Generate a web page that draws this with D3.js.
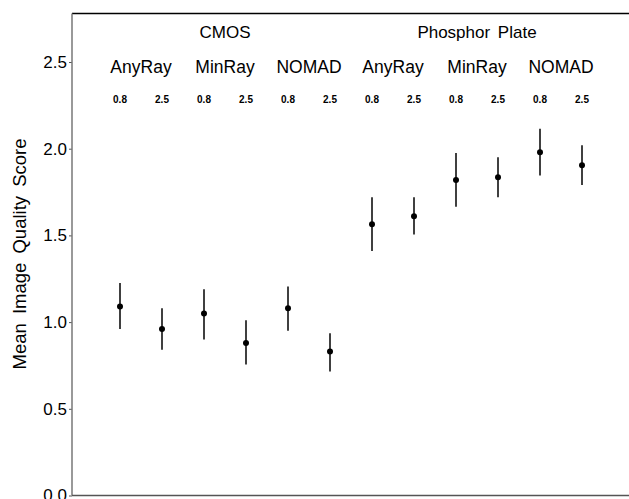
<!DOCTYPE html>
<html>
<head>
<meta charset="utf-8">
<script src="https://cdn.jsdelivr.net/npm/d3@7"></script>
<style>
  body { margin: 0; background: #fff; }
  text { font-family: "Liberation Sans", Arial, sans-serif; fill: #000; }
</style>
</head>
<body>
<div id="chart"></div>
<script>
// data
var detectors = ["CMOS", "Phosphor Plate"];
var software = ["AnyRay", "MinRay", "NOMAD"];
var settings = ["0.8", "2.5"];
var means = [1.09, 0.96, 1.05, 0.88, 1.08, 0.83, 1.565, 1.61, 1.82, 1.835, 1.98, 1.905];
var lower = [0.96, 0.84, 0.90, 0.755, 0.95, 0.715, 1.41, 1.505, 1.665, 1.72, 1.845, 1.79];
var upper = [1.225, 1.08, 1.19, 1.01, 1.205, 0.935, 1.72, 1.72, 1.975, 1.95, 2.115, 2.02];
var yTicks = [0.0, 0.5, 1.0, 1.5, 2.0, 2.5];

var width = 629, height = 499;
var margin = {top: 13.5, left: 72, bottom: 3.5};

// build the rows
var rows = [];
var k = 0;
detectors.forEach(function (d) {
    software.forEach(function (s) {
        settings.forEach(function (t) {
            rows.push({det: d, sw: s, set: t, key: d + "|" + s + "|" + t,
                m: means[k], lo: lower[k], hi: upper[k]});
            k++;
        });
    });
});

var svg = d3.select("#chart").append("svg")
    .attr("width", width)
    .attr("height", height);

var y = d3.scaleLinear()
    .domain([0, 2.5])
    .range([height - margin.bottom, 62]);

var x = d3.scaleBand()
    .domain(rows.map(function (d) { return d.key; }))
    .range([99, 603]);

var cx = function (key) { return x(key) + x.bandwidth() / 2; };

// top frame line
svg.append("line")
    .attr("x1", margin.left).attr("x2", width)
    .attr("y1", margin.top).attr("y2", margin.top)
    .attr("stroke", "#000").attr("stroke-width", 1.5);

// y axis
var yAxis = svg.append("g")
    .attr("transform", "translate(" + margin.left + ",0)")
    .call(d3.axisLeft(y).tickValues(yTicks).tickFormat(d3.format(".1f")).tickSize(3).tickPadding(2));
yAxis.select(".domain").remove();
yAxis.selectAll("line").attr("stroke", "#555");
yAxis.selectAll("text").style("font-size", "17px").attr("fill", "#000");

svg.append("line")
    .attr("x1", margin.left).attr("x2", margin.left)
    .attr("y1", margin.top).attr("y2", y(0))
    .attr("stroke", "#777").attr("stroke-width", 1.5);

// bottom line
svg.append("line")
    .attr("x1", margin.left).attr("x2", width)
    .attr("y1", y(0)).attr("y2", y(0))
    .attr("stroke", "#555").attr("stroke-width", 1.5);

// y title
svg.append("text")
    .attr("transform", "translate(26," + 254 + ")rotate(-90)")
    .attr("text-anchor", "middle")
    .style("font-size", "18.5px")
    .style("word-spacing", "4px")
    .text("Mean Image Quality Score");

// header labels
detectors.forEach(function (d) {
    var keys = rows.filter(function (r) { return r.det === d; }).map(function (r) { return r.key; });
    var mid = (cx(keys[0]) + cx(keys[keys.length - 1])) / 2;
    svg.append("text")
        .attr("x", mid).attr("y", 38)
        .attr("text-anchor", "middle")
        .style("font-size", "17px")
        .style("word-spacing", "3px")
        .text(d);
    software.forEach(function (s) {
        var ks = rows.filter(function (r) { return r.det === d && r.sw === s; }).map(function (r) { return r.key; });
        svg.append("text")
            .attr("x", (cx(ks[0]) + cx(ks[1])) / 2).attr("y", 73)
            .attr("text-anchor", "middle")
            .style("font-size", "17.5px")
            .text(s);
    });
});

svg.selectAll(".setting")
    .data(rows)
    .enter().append("text")
    .attr("class", "setting")
    .attr("x", function (d) { return cx(d.key); })
    .attr("y", 103)
    .attr("text-anchor", "middle")
    .style("font-size", "10px")
    .style("font-weight", "bold")
    .text(function (d) { return d.set; });

// error bars
svg.selectAll(".err")
    .data(rows)
    .enter().append("line")
    .attr("class", "err")
    .attr("x1", function (d) { return cx(d.key); })
    .attr("x2", function (d) { return cx(d.key); })
    .attr("y1", function (d) { return y(d.lo); })
    .attr("y2", function (d) { return y(d.hi); })
    .attr("stroke", "#000")
    .attr("stroke-width", 1.5);

svg.selectAll(".pt")
    .data(rows)
    .enter().append("circle")
    .attr("class", "pt")
    .attr("cx", function (d) { return cx(d.key); })
    .attr("cy", function (d) { return y(d.m); })
    .attr("r", 3)
    .attr("fill", "#000");
</script>
</body>
</html>
